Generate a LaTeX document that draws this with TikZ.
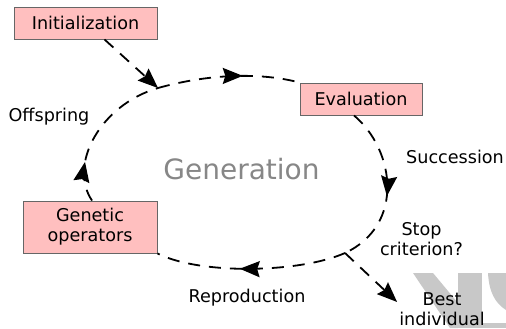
\documentclass[tikz,border=0pt]{standalone}
\usepackage{fontspec}
\setmainfont{DejaVu Sans}
\usetikzlibrary{positioning}
\usetikzlibrary{calc}
\usetikzlibrary{arrows.meta}
\usetikzlibrary{decorations.markings}
\definecolor{boxpink}{RGB}{255,191,191}
\definecolor{logogray}{RGB}{200,200,200}

\begin{document}
\begin{tikzpicture}[x=1bp, y=1bp,
    font=\fontsize{17.6bp}{20bp}\selectfont,
    stage/.style={draw=black!60, fill=boxpink, line width=0.9bp, inner sep=0pt,
      minimum height=32bp, align=center},
    txt/.style={anchor=base, align=center, inner sep=2bp},
    flow/.style={line width=1.8bp, dash pattern=on 12bp off 9bp},
    midarrow/.style={postaction={decorate}, decoration={markings,
      mark=at position #1 with {\arrow{Stealth[length=20bp,width=16bp,inset=2.5bp]}}}},
    endtip/.style={-{Stealth[length=20bp,width=16bp,inset=2.5bp]}}]
     \useasboundingbox (0,0) rectangle (506,-328);
     % logo in the corner
     \fill[logogray] (413,-273) -- (433,-273) -- (458,-303) -- (458,-328) -- (450,-328) -- cycle;
     \fill[logogray] (458,-273) rectangle (482,-328);
     \fill[logogray] (488,-273) -- (506,-273) -- (506,-310)
       .. controls (495,-303) and (489,-292) .. (488,-273);
     \fill[logogray] (482,-323) rectangle (506,-328);

     \node[stage, minimum width=143bp] (init) at (85.5,-23) {Initialization};
     \node[stage, minimum width=122bp] (eval) at (361,-99) {Evaluation};
     \node[stage, minimum width=134bp, minimum height=52bp] (gen) at (90,-227) {Genetic\\operators};

     \node[txt, text=black!47, font=\fontsize{28bp}{32bp}\selectfont] (generation) at (241.5,-179) {Generation};
     \node[txt] (offspring) at (49,-121) {Offspring};
     \node[txt] (succession) at (455,-163) {Succession};
     \node[txt] (stop) at (421.5,-255) {Stop\\criterion?};
     \node[txt] (reproduction) at (247,-302) {Reproduction};
     \node[txt] (best) at (442,-325) {Best\\individual};

     \coordinate (j1) at (158,-88);
     \coordinate (j2) at (345,-253);

     \draw[flow, midarrow=0.27] ([xshift=2bp]gen.north)
       .. controls (68,-165) and (100,-105) .. (j1);
     \draw[flow, midarrow=0.6] (j1)
       .. controls (208,-74) and (260,-72) .. (eval.north west);
     \draw[flow, midarrow=0.55] ([xshift=-7bp]eval.south)
       .. controls (395,-150) and (405,-225) .. (j2);
     \draw[flow, midarrow=0.56] (j2)
       .. controls (300,-273) and (200,-275) .. (gen.south east);
     \draw[flow, endtip] ([xshift=19bp]init.south) -- (j1);
     \draw[flow, endtip] (j2) -- ($(best.north west)+(0,-12)$);
    \end{tikzpicture}
\end{document}
